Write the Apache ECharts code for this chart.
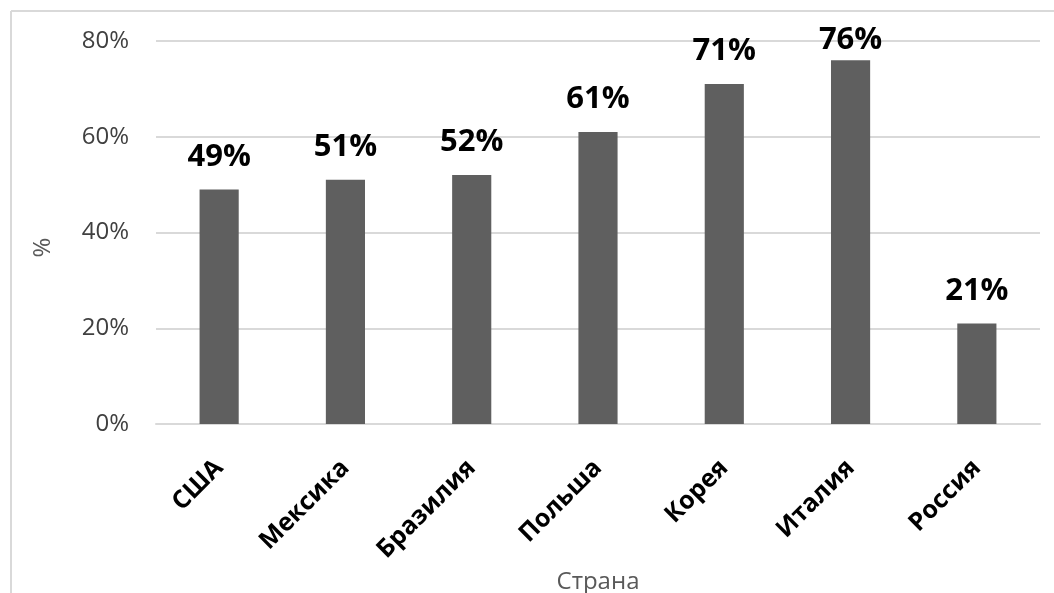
<!DOCTYPE html>
<html>
<head>
<meta charset="utf-8">
<script src="https://cdn.jsdelivr.net/npm/echarts@6/dist/echarts.min.js"></script>
<style>
html,body{margin:0;padding:0;background:#fff;}
#chart{width:1054px;height:593px;}
</style>
</head>
<body>
<div id="chart"></div>
<script>
const categories = ['США', 'Мексика', 'Бразилия', 'Польша', 'Корея', 'Италия', 'Россия'];
const values = [49, 51, 52, 61, 71, 76, 21];
const yTicks = { min: 0, max: 80, interval: 20 };
const xAxisTitle = 'Страна';
const yAxisTitle = '%';

const chart = echarts.init(document.getElementById('chart'), null, { renderer: 'canvas' });
const FONT = '"Open Sans", "DejaVu Sans", sans-serif';
chart.setOption({
  animation: false,
  backgroundColor: '#ffffff',
  textStyle: { fontFamily: FONT },
  graphic: [
    { type: 'line', shape: { x1: 11, y1: 11, x2: 11, y2: 600 }, style: { stroke: '#d9d9d9', lineWidth: 2 } },
    { type: 'line', shape: { x1: 11, y1: 11, x2: 1060, y2: 11 }, style: { stroke: '#d9d9d9', lineWidth: 2 } }
  ],
  grid: { left: 156, right: 14, top: 41, bottom: 169, containLabel: false, outerBoundsMode: 'none' },
  xAxis: {
    type: 'category',
    data: categories,
    name: xAxisTitle,
    nameLocation: 'middle',
    nameGap: 140,
    nameTextStyle: { fontSize: 24, color: '#595959', fontFamily: FONT },
    axisLine: { show: true, lineStyle: { color: '#d9d9d9', width: 2 } },
    axisTick: { show: false },
    axisLabel: {
      rotate: 45,
      margin: 40,
      fontSize: 25,
      fontWeight: 'bold',
      color: '#000000',
      fontFamily: FONT,
      interval: 0
    }
  },
  yAxis: {
    type: 'value',
    min: yTicks.min,
    max: yTicks.max,
    interval: yTicks.interval,
    name: yAxisTitle,
    nameLocation: 'middle',
    nameGap: 101,
    nameRotate: 90,
    nameTextStyle: { fontSize: 24, color: '#595959', fontFamily: FONT, padding: [0, 30, 0, 0] },
    axisLine: { show: false },
    axisTick: { show: false },
    axisLabel: {
      formatter: '{value}%',
      margin: 27,
      fontSize: 24,
      color: '#404040',
      fontFamily: FONT
    },
    splitLine: { lineStyle: { color: '#d9d9d9', width: 2 } }
  },
  series: [{
    type: 'bar',
    data: values,
    barWidth: '31%',
    itemStyle: { color: '#5f5f5f' },
    label: {
      show: true,
      position: 'top',
      distance: 17,
      formatter: '{c}%',
      fontSize: 31,
      fontWeight: 'bold',
      color: '#000000',
      fontFamily: FONT
    },
    labelLayout: function (params) {
      const r = params.labelRect;
      if (r.y < 25) {
        return { x: r.x + r.width / 2, y: 25, align: 'center', verticalAlign: 'top' };
      }
      return {};
    }
  }]
});
</script>
</body>
</html>
